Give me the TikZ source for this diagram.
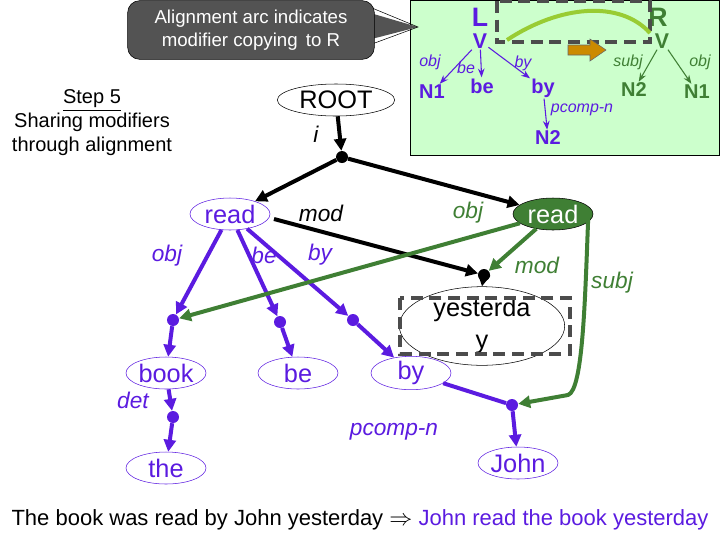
\documentclass[tikz,border=0pt]{standalone}
\usepackage{fontspec}
\setmainfont{Liberation Sans}
\usepackage{amssymb}
\usetikzlibrary{shapes.geometric,arrows.meta}
\definecolor{pur}{HTML}{5B1BE0}
\definecolor{grn}{HTML}{3F7F34}
\definecolor{lgrn}{HTML}{CCFFCC}
\definecolor{lime}{HTML}{99CC33}
\definecolor{org}{HTML}{CC8A00}
\begin{document}
\begin{tikzpicture}[x=0.75pt,y=-0.75pt,
  el/.style={ellipse,draw,thin,minimum width=60pt,minimum height=24pt,inner sep=0pt,font=\fontsize{19}{19}\selectfont},
  pn/.style={el,draw=pur,text=pur},
  dot/.style={circle,fill,inner sep=0pt,minimum size=9pt},
  pe/.style={pur,line width=3pt,-{Triangle[length=9pt,width=9pt]}},
  ge/.style={grn,line width=3pt,-{Triangle[length=9pt,width=9pt]}},
  be/.style={black,line width=3pt,-{Triangle[length=9pt,width=9pt]}},
  lab/.style={font=\fontsize{17}{17}\selectfont\itshape},
  sl/.style={font=\fontsize{12}{12}\selectfont\itshape\rmfamily},
  pt/.style={inner sep=0pt,outer sep=1pt,font=\fontsize{15}{15}\selectfont\bfseries}]
\useasboundingbox (0,0) rectangle (720,540);
% green box
\draw[fill=lgrn] (410,0) rectangle (719,155);
% callout
\fill[gray!65!black] (360,10) -- (418,27) -- (360,42) -- cycle;
\draw (372,8) -- (418,27) -- (372,44);
\node[fill=gray!65!black,draw=black,rounded corners=9pt,minimum width=185pt,minimum height=44pt,text=white,align=center,font=\fontsize{14}{17}\selectfont] (call) at (251,30) {Alignment arc indicates\\modifier copying\, to R};
% L
\node[text=pur,font=\fontsize{20}{20}\selectfont\bfseries] (L) at (480,17) {L};
\node[text=pur,pt,font=\fontsize{16}{16}\selectfont\bfseries] (LV) at (480,41) {V};
\node[text=pur,pt] (LN1) at (432,92) {N1};
\node[text=pur,pt] (Lbe) at (482,86) {be};
\node[text=pur,pt] (Lby) at (543,88) {by};
\node[text=pur,pt] (LN2) at (548,138) {N2};
\draw[pur,thick,-Stealth] (LV) -- (LN1);
\draw[pur,thick,-Stealth] (LV) -- (Lbe);
\draw[pur,thick,-Stealth] (LV) -- (Lby);
\draw[pur,thick,-Stealth] (Lby) -- (LN2);
\node[sl,text=pur] at (430,62) {obj};
\node[sl,text=pur] at (466,68) {be};
\node[sl,text=pur] at (523,63) {by};
\node[sl,text=pur] at (582,110) {pcomp-n};
% R
\node[text=grn,font=\fontsize{20}{20}\selectfont\bfseries] (R) at (658,17) {R};
\node[text=grn,pt,font=\fontsize{16}{16}\selectfont\bfseries] (RV) at (662,41) {V};
\node[text=grn,pt] (RN2) at (634,90) {N2};
\node[text=grn,pt] (RN1) at (697,92) {N1};
\draw[grn,thick,-Stealth] (RV) -- (RN2);
\draw[grn,thick,-Stealth] (RV) -- (RN1);
\node[sl,text=grn] at (628,62) {subj};
\node[sl,text=grn] at (700,62) {obj};
\draw[gray!60!black,line width=2.5pt,dash pattern=on 9pt off 5pt] (497,1) rectangle (650,42);
\draw[lime,line width=3pt] (507,40) .. controls (560,5) and (620,0) .. (650,33);
\draw[fill=org,draw=black!60] (568,45) -- (590,45) -- (590,39) -- (606,50) -- (590,61) -- (590,55) -- (568,55) -- cycle;
% step text
\node[align=center,font=\fontsize{15}{18}\selectfont] (step) at (92,123) {\underline{Step 5}\\Sharing modifiers\\through alignment};
% main tree
\node[el,minimum width=88pt] (root) at (336,100) {ROOT};
\node[dot] (d0) at (342,157) {};
\draw[be] (root) -- (d0);
\node[lab] at (316,134) {i};
\node[pn] (read) at (230,214) {read};
\node[el,fill=grn,draw=black,text=white] (readg) at (553,214) {read};
\draw[be] (d0) -- (read);
\draw[be] (d0) -- (readg);
\node[lab] at (321,213) {mod};
\node[lab,text=grn] at (468,213) {obj};
\node[dot] (d1) at (484,275) {};
\node[el,minimum width=124pt,minimum height=36pt,align=center,font=\fontsize{19}{24}\selectfont] (yest) at (482,326) {yesterda\\y};
\draw[gray!60!black,line width=2.5pt,dash pattern=on 9pt off 5pt] (400,298) rectangle (570,354);
\draw[be] (274,219) -- (d1);
\draw[be] (d1) -- (yest.north);
\draw[ge] (readg) -- (d1);
\node[lab,text=grn] at (537,265) {mod};
\node[dot,pur] (db) at (173,320) {};
\node[dot,pur] (dbe) at (280,322) {};
\node[dot,pur] (dby) at (353,320) {};
\node[dot,pur] (dt) at (173,417) {};
\node[dot,pur] (dj) at (512,405) {};
\draw[pe] (read) -- (db);
\draw[pe] (read) -- (dbe);
\draw[pe] (read) -- (dby);
\node[lab,text=pur] at (167,256) {obj};
\node[lab,text=pur] at (264,255) {be};
\node[lab,text=pur] at (320,255) {by};
\draw[ge] (readg) -- (db);
\draw[ge] (readg.east) ++(-5,2) .. controls (585,300) and (583,390) .. (568,395) -- (dj);
\node[lab,text=grn] at (612,283) {subj};
\node[pn] (book) at (166,373) {book};
\node[pn] (bee) at (298,373) {be};
\node[pn] (by) at (411,373) {by};
\node[pn] (the) at (166,468) {the};
\node[pn] (john) at (518,463) {John};
\draw[pe] (db) -- (book);
\draw[pe] (dbe) -- (bee);
\draw[pe] (dby) -- (by);
\draw[pe] (book) -- (dt);
\draw[pe] (dt) -- (the);
\draw[pur,line width=3pt] (by) -- (dj);
\draw[pe] (dj) -- (john);
\node[lab,text=pur] at (133,400) {det};
\node[lab,text=pur] at (394,432) {pcomp-n};
\node[font=\fontsize{16.5}{16.5}\selectfont] (bot) at (360,520) {The book was read by John yesterday $\Rightarrow$ \textcolor{pur}{John read the book yesterday}};
\end{tikzpicture}
\end{document}
